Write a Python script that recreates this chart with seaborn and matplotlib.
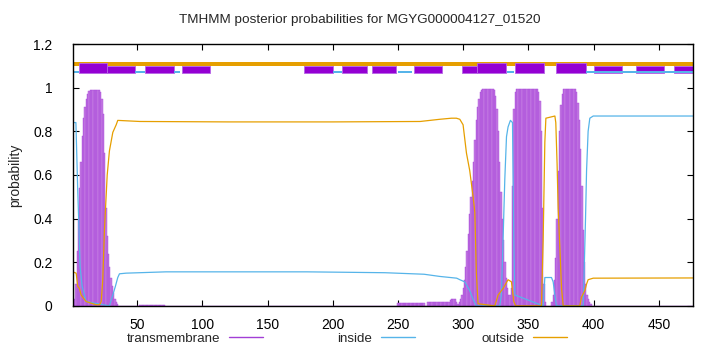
import numpy as np
import matplotlib
matplotlib.use('Agg')
import matplotlib.pyplot as plt
import seaborn as sns
from matplotlib.lines import Line2D

# sequence length
seq_len = 476

# transmembrane posterior (per residue; zero elsewhere)
tm_helix1_start = 2
tm_helix1 = [0.03, 0.10, 0.25, 0.40, 0.54, 0.66, 0.78, 0.86, 0.91, 0.95, 0.97, 0.985,
             0.99, 0.99, 0.99, 0.99, 0.99, 0.99, 0.99, 0.99, 0.98, 0.95, 0.88, 0.70,
             0.45, 0.32, 0.24, 0.18, 0.13, 0.09, 0.06, 0.03, 0.02, 0.01]
tm_low1_start = 52
tm_low1 = [0.005] * 20
tm_low2_start = 250
tm_low2 = [0.012] * 21
tm_low3_start = 273
tm_low3 = [0.02, 0.02, 0.02, 0.02, 0.02, 0.02, 0.02, 0.02, 0.02, 0.02, 0.02, 0.02,
           0.02, 0.02, 0.02, 0.02, 0.02, 0.025, 0.03, 0.03, 0.03, 0.03, 0.02]
tm_helix2_start = 296
tm_helix2 = [0.01, 0.02, 0.03, 0.05, 0.08, 0.12, 0.18, 0.25, 0.33, 0.42, 0.50, 0.57,
             0.66, 0.76, 0.85, 0.91, 0.95, 0.98, 0.99, 0.995, 0.995, 0.995, 0.995,
             0.995, 0.995, 0.995, 0.995, 0.995, 0.99, 0.96, 0.90, 0.80, 0.66, 0.52,
             0.40, 0.30, 0.20, 0.13, 0.08, 0.05, 0.05, 0.08]
tm_helix3_start = 338
tm_helix3 = [0.55, 0.90, 0.98, 0.995, 0.995, 0.995, 0.995, 0.995, 0.995, 0.995, 0.995,
             0.995, 0.995, 0.995, 0.995, 0.995, 0.995, 0.995, 0.995, 0.995, 0.98,
             0.94, 0.80, 0.45, 0.10, 0.02]
tm_helix4_start = 368
tm_helix4 = [0.02, 0.05, 0.12, 0.22, 0.40, 0.62, 0.80, 0.92, 0.97, 0.995, 0.995, 0.995,
             0.995, 0.995, 0.995, 0.995, 0.995, 0.995, 0.995, 0.98, 0.93, 0.85, 0.72,
             0.55, 0.35, 0.20, 0.10, 0.05, 0.03, 0.02, 0.01]

# inside posterior (read points)
inside_pos = [1, 3, 4.4, 5.2, 6.2, 7.8, 10.8, 28.7, 31.3, 33.3, 35.1, 36.4, 41.5, 72,
              120, 180, 240, 270, 282, 295, 297.4, 301.2, 305, 307.6, 310.1, 328,
              329.3, 330.6, 331.9, 333.2, 334.4, 336.2, 337.8, 338.3, 338.8, 339.6,
              361.3, 362.6, 367.7, 369, 370.3, 371.5, 392, 392.5, 393.8, 394.6, 395.8,
              397.1, 399.7, 476]
inside_prob = [0.84, 0.84, 0.53, 0.38, 0.18, 0.09, 0.02, 0.0, 0.05, 0.09, 0.13, 0.147,
               0.15, 0.156, 0.156, 0.156, 0.152, 0.145, 0.135, 0.127, 0.12, 0.11, 0.07,
               0.03, 0.0, 0.0, 0.05, 0.31, 0.58, 0.775, 0.82, 0.85, 0.84, 0.58, 0.3,
               0.05, 0.0, 0.13, 0.13, 0.11, 0.05, 0.0, 0.0, 0.1, 0.4, 0.62, 0.8, 0.86,
               0.87, 0.87]

# outside posterior (read points)
outside_pos = [1, 3.2, 4.4, 5.7, 7.0, 10.8, 18.5, 21.1, 22.4, 23.6, 24.9, 27.0, 28.7,
               31.3, 33.9, 35.1, 52, 120, 200, 267, 282, 291, 294.8, 297.4, 299.9,
               302.5, 305.0, 307.6, 308.9, 310.1, 311.4, 324.2, 326.8, 330.6, 334.4,
               337.0, 338.8, 340.3, 360.0, 361.3, 362.6, 363.4, 370.3, 371.0, 372.0,
               372.8, 374.1, 375.4, 376.7, 389.4, 390.7, 393.3, 394.6, 395.8, 399.7, 476]
outside_prob = [0.155, 0.15, 0.09, 0.08, 0.05, 0.02, 0.005, 0.005, 0.02, 0.12, 0.35, 0.6,
                0.71, 0.795, 0.83, 0.85, 0.845, 0.843, 0.843, 0.845, 0.855, 0.86, 0.86,
                0.855, 0.83, 0.70, 0.62, 0.50, 0.43, 0.15, 0.01, 0.0, 0.05, 0.08, 0.12,
                0.11, 0.02, 0.0, 0.0, 0.3, 0.75, 0.86, 0.87, 0.84, 0.65, 0.45, 0.27,
                0.08, 0.0, 0.0, 0.04, 0.07, 0.10, 0.12, 0.127, 0.128]

# top strip segments (start, end)
top_outside = [(1, 476)]
top_inside = [(1, 5), (48.7, 55.8), (77.9, 82.5), (200.1, 206.8), (249.8, 260.5),
              (333.4, 338.8), (394.1, 476)]
top_tm_short = [(27, 48.7), (55.8, 77.9), (84, 105.7), (177.9, 200.1), (206.8, 226),
                (229.8, 248.8), (262.1, 283.8), (298.9, 310.9), (400, 421.9),
                (432.2, 453.9), (461.4, 476)]
top_tm_tall = [(5, 27), (310.9, 332.6), (339.6, 361.8), (371.1, 394.1)]

legend_labels = ['transmembrane', 'inside', 'outside']

# colours
c_tm = '#a23fd6'
c_in = '#56b4e9'
c_out = '#e69f00'

sns.set_theme(style='ticks')
plt.rcParams['font.family'] = ['Liberation Sans', 'DejaVu Sans']

residues = np.arange(1, seq_len + 1)
tm = np.zeros(seq_len)
for start, vals in [(tm_helix1_start, tm_helix1), (tm_low1_start, tm_low1),
                    (tm_low2_start, tm_low2), (tm_low3_start, tm_low3),
                    (tm_helix2_start, tm_helix2), (tm_helix3_start, tm_helix3),
                    (tm_helix4_start, tm_helix4)]:
    tm[start - 1:start - 1 + len(vals)] = vals

fig = plt.figure(figsize=(7.2, 3.52), dpi=100)
ax = fig.add_axes([0.1018, 0.131, 0.8603, 0.744])

ax.bar(residues, tm, width=1.0, color='#c47de2', edgecolor='#a845da', linewidth=0.3)
sns.lineplot(x=inside_pos, y=inside_prob, ax=ax, color=c_in, lw=0.9)
sns.lineplot(x=outside_pos, y=outside_prob, ax=ax, color=c_out, lw=0.9)

# top strip
for s, e in top_outside:
    ax.broken_barh([(s, e - s)], (1.101, 0.017), facecolor=c_out, edgecolor='none')
for s, e in top_tm_short:
    ax.broken_barh([(s, e - s)], (1.068, 0.033), facecolor='#9400d3', edgecolor='#b765e6', lw=0.6)
for s, e in top_tm_tall:
    ax.broken_barh([(s, e - s)], (1.066, 0.047), facecolor='#9400d3', edgecolor='#b765e6', lw=0.6)
for s, e in top_inside:
    ax.broken_barh([(s, e - s)], (1.066, 0.012), facecolor=c_in, edgecolor='none')

ax.set_xlim(1, seq_len)
ax.set_ylim(0, 1.2)
ax.set_xticks([50, 100, 150, 200, 250, 300, 350, 400, 450])
ax.set_yticks([0, 0.2, 0.4, 0.6, 0.8, 1.0, 1.2])
ax.set_yticklabels(['0', '0.2', '0.4', '0.6', '0.8', '1', '1.2'])
ax.tick_params(direction='in', top=True, right=True, length=4, width=0.8,
               labelsize=10, colors='black')
ax.tick_params(axis='y', pad=15)
ax.tick_params(axis='x', pad=9)
for sp in ax.spines.values():
    sp.set_color('black')
    sp.set_linewidth(1.0)
ax.set_xlabel('')
ax.set_ylabel('probability', fontsize=10)
ax.yaxis.set_label_coords(-0.082, 0.5)
fig.text(0.5, 1 - 20 / 352, 'TMHMM posterior probabilities for MGYG000004127_01520',
         ha='center', va='center', fontsize=9.7)

# gnuplot-style key: text right-aligned before a line sample
for i, (lab, col) in enumerate(zip(legend_labels, [c_tm, c_in, c_out])):
    x0 = (229 + 152 * i) / 720
    y0 = 1 - 337 / 352
    fig.text(x0 - 9 / 720, 1 - 338.5 / 352, lab, ha='right', va='center', fontsize=9.6)
    fig.add_artist(Line2D([x0, x0 + 34 / 720], [y0, y0], color=col, lw=1.0,
                          transform=fig.transFigure))

fig.savefig('out.png', dpi=100)
